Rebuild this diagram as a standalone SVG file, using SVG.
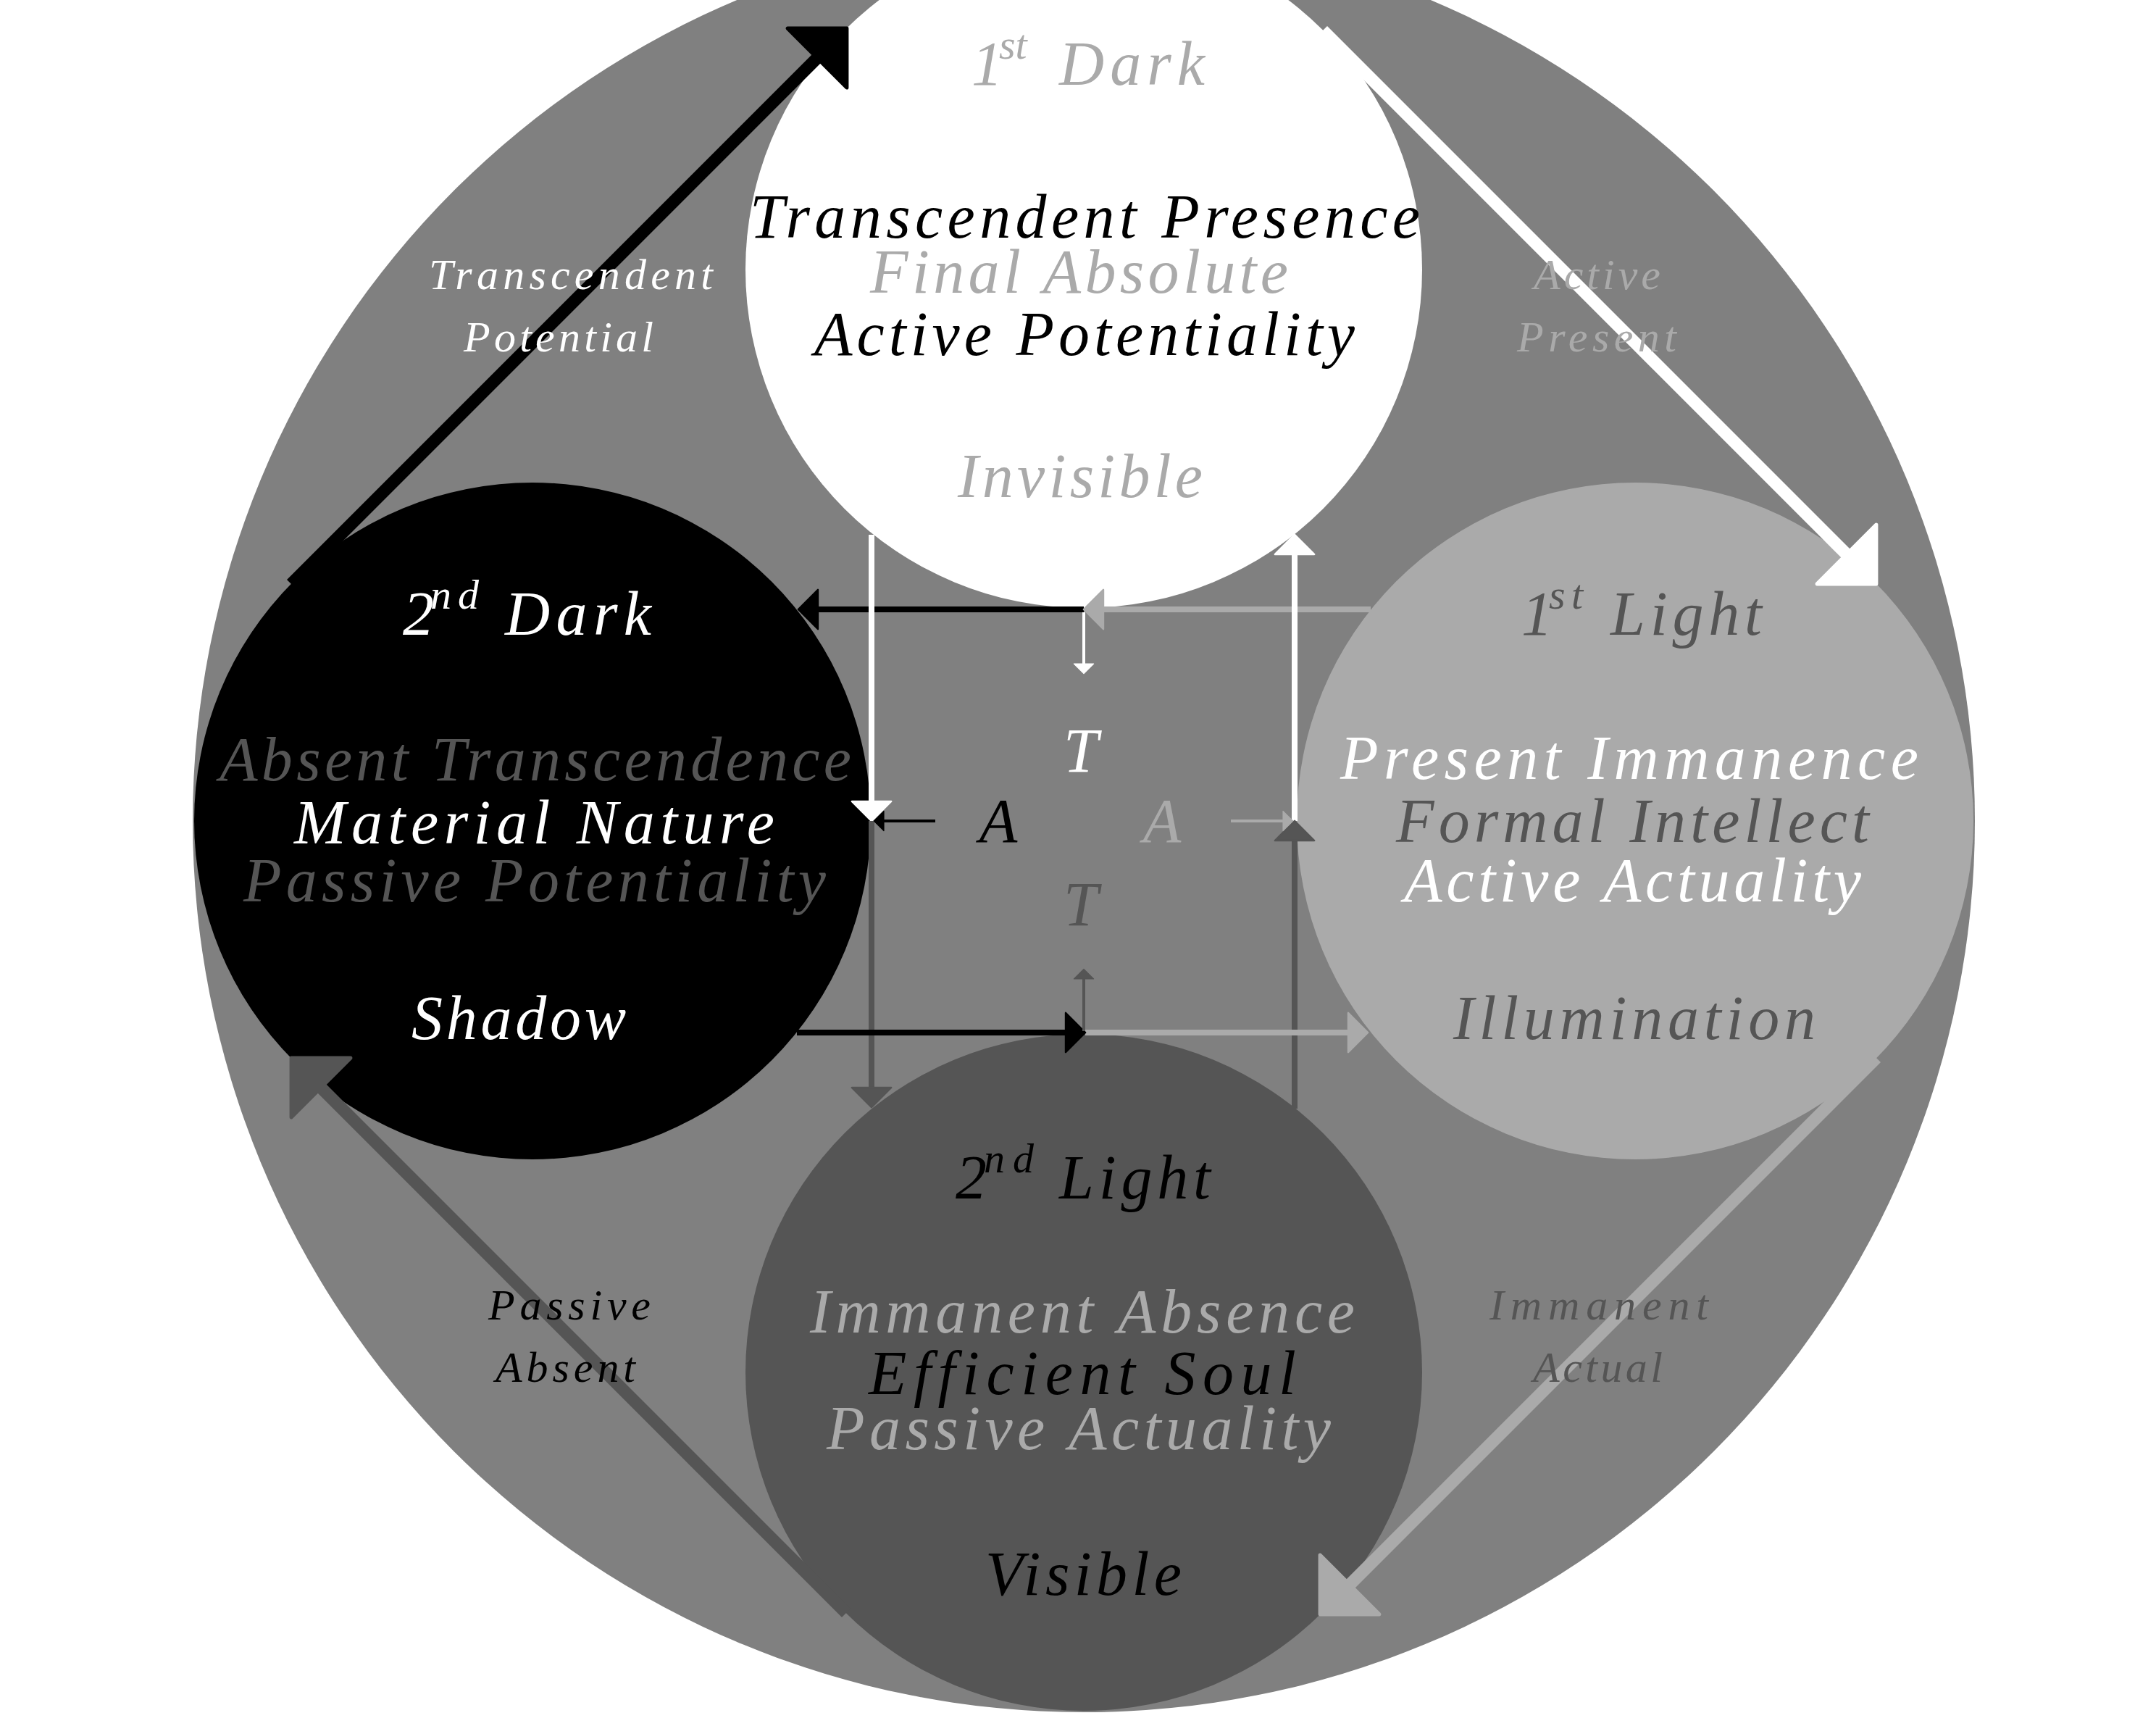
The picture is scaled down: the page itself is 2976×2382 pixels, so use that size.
<svg xmlns="http://www.w3.org/2000/svg" width="2976" height="2382" viewBox="0 0 2976 2382">
<style>
.t{font-family:"Liberation Serif","Times New Roman",serif;font-style:italic;font-size:86px}
.s{font-size:60px}
.sup{font-size:58px}
.c{fill:none;stroke-linecap:butt}
.k{fill:#000}.w{fill:#fff}.l{fill:#aaa}.d{fill:#555}
</style>
<defs>
<marker id="mk" viewBox="0 -4 5 8" markerWidth="5" markerHeight="8" refX="0.5" refY="0" orient="auto" overflow="visible"><path d="M0,-3.4 L3.4,0 L0,3.4 Z" fill="#000" stroke="#000" stroke-width="0.3" stroke-linejoin="round"/></marker>
<marker id="mw" viewBox="0 -4 5 8" markerWidth="5" markerHeight="8" refX="0.5" refY="0" orient="auto" overflow="visible"><path d="M0,-3.4 L3.4,0 L0,3.4 Z" fill="#fff" stroke="#fff" stroke-width="0.3" stroke-linejoin="round"/></marker>
<marker id="ml" viewBox="0 -4 5 8" markerWidth="5" markerHeight="8" refX="0.5" refY="0" orient="auto" overflow="visible"><path d="M0,-3.4 L3.4,0 L0,3.4 Z" fill="#aaa" stroke="#aaa" stroke-width="0.3" stroke-linejoin="round"/></marker>
<marker id="md" viewBox="0 -4 5 8" markerWidth="5" markerHeight="8" refX="0.5" refY="0" orient="auto" overflow="visible"><path d="M0,-3.4 L3.4,0 L0,3.4 Z" fill="#555" stroke="#555" stroke-width="0.3" stroke-linejoin="round"/></marker>
</defs>
<rect width="2976" height="2382" fill="#fff"/>
<g id="whole">
<circle cx="1496" cy="1133" r="1230" fill="#808080"/>
</g>
<g id="first-dark"><circle cx="1496" cy="372" r="467" fill="#fff"/></g>
<g id="second-dark"><circle cx="735" cy="1133" r="467" fill="#000"/></g>
<g id="first-light"><circle cx="2257" cy="1133" r="467" fill="#aaa"/></g>
<g id="second-light"><circle cx="1496" cy="1894" r="467" fill="#555"/></g>
<g id="connectors">
<path class="c" d="M402,806 L1134,74" stroke="#000" stroke-width="17" marker-end="url(#mk)"/>
<path class="c" d="M1826,42 L2555,771" stroke="#fff" stroke-width="17" marker-end="url(#mw)"/>
<path class="c" d="M2590,1460 L1857,2193" stroke="#aaa" stroke-width="17" marker-end="url(#ml)"/>
<path class="c" d="M1168,2226 L437,1495" stroke="#555" stroke-width="17" marker-end="url(#md)"/>
<path class="c" d="M1496,845 L1496,918" stroke="#fff" stroke-width="4" marker-end="url(#mw)"/>
<path class="c" d="M1496,841 L1125,841" stroke="#000" stroke-width="8" marker-end="url(#mk)"/>
<path class="c" d="M1892,841 L1519,841" stroke="#aaa" stroke-width="8" marker-end="url(#ml)"/>
<path class="c" d="M1203,738 L1203,1110" stroke="#fff" stroke-width="8" marker-end="url(#mw)"/>
<path class="c" d="M1203,1133 L1203,1505" stroke="#555" stroke-width="8" marker-end="url(#md)"/>
<path class="c" d="M1291,1133 L1218,1133" stroke="#000" stroke-width="4" marker-end="url(#mk)"/>
<path class="c" d="M1787,1133 L1787,761" stroke="#fff" stroke-width="8" marker-end="url(#mw)"/>
<path class="c" d="M1787,1530 L1787,1156" stroke="#555" stroke-width="8" marker-end="url(#md)"/>
<path class="c" d="M1699,1133 L1773,1133" stroke="#aaa" stroke-width="4" marker-end="url(#ml)"/>
<path class="c" d="M1498,1425 L1865,1425" stroke="#aaa" stroke-width="8" marker-end="url(#ml)"/>
<path class="c" d="M1100,1425 L1475,1425" stroke="#000" stroke-width="8" marker-end="url(#mk)"/>
<path class="c" d="M1496,1423 L1496,1349" stroke="#555" stroke-width="4" marker-end="url(#md)"/>
</g>
<g id="first-dark-text" class="t">
<text class="l" x="1341" y="117">1</text>
<text class="l sup" x="1379" y="81">st</text>
<text class="l" x="1462" y="117" textLength="201">Dark</text>
<text class="k" x="1035" y="328" textLength="925">Transcendent Presence</text>
<text class="l" x="1201" y="404" textLength="577">Final Absolute</text>
<text class="k" x="1124" y="490" textLength="746">Active Potentiality</text>
<text class="l" x="1322" y="686" textLength="338">Invisible</text>
</g>
<g id="second-dark-text" class="t">
<text class="w" x="556" y="876">2</text>
<text class="w sup" x="594" y="840" textLength="67">nd</text>
<text class="w" x="697" y="876" textLength="202">Dark</text>
<text class="d" x="303" y="1077" textLength="872">Absent Transcendence</text>
<text class="w" x="406" y="1164" textLength="663">Material Nature</text>
<text class="d" x="336" y="1244" textLength="804">Passive Potentiality</text>
<text class="w" x="568" y="1434" textLength="296">Shadow</text>
</g>
<g id="first-light-text" class="t">
<text class="d" x="2100" y="876">1</text>
<text class="d sup" x="2138" y="840" textLength="47">st</text>
<text class="d" x="2223" y="876" textLength="209">Light</text>
<text class="w" x="1850" y="1075" textLength="798">Present Immanence</text>
<text class="d" x="1927" y="1162" textLength="653">Formal Intellect</text>
<text class="w" x="1938" y="1244" textLength="631">Active Actuality</text>
<text class="d" x="2006" y="1434" textLength="500">Illumination</text>
</g>
<g id="second-light-text" class="t">
<text class="k" x="1319" y="1654">2</text>
<text class="k sup" x="1358" y="1618" textLength="69">nd</text>
<text class="k" x="1462" y="1654" textLength="209">Light</text>
<text class="l" x="1118" y="1839" textLength="752">Immanent Absence</text>
<text class="k" x="1199" y="1924" textLength="590">Efficient Soul</text>
<text class="l" x="1141" y="2000" textLength="696">Passive Actuality</text>
<text class="k" x="1360" y="2201" textLength="271">Visible</text>
</g>
<g id="edge-labels" class="t s">
<text class="w" x="592" y="399" textLength="392">Transcendent</text>
<text class="w" x="640" y="485" textLength="262">Potential</text>
<text class="l" x="2117" y="399" textLength="175">Active</text>
<text class="l" x="2094" y="485" textLength="220">Present</text>
<text class="k" x="674" y="1821" textLength="224">Passive</text>
<text class="k" x="684" y="1907" textLength="193">Absent</text>
<text class="d" x="2056" y="1821" textLength="302">Immanent</text>
<text class="d" x="2116" y="1907" textLength="179">Actual</text>
</g>
<g id="center-labels" class="t" text-anchor="middle">
<text class="w" x="1492" y="1065">T</text>
<text class="k" x="1378" y="1162">A</text>
<text class="l" x="1604" y="1162">A</text>
<text class="d" x="1492" y="1277">T</text>
</g>
</svg>
